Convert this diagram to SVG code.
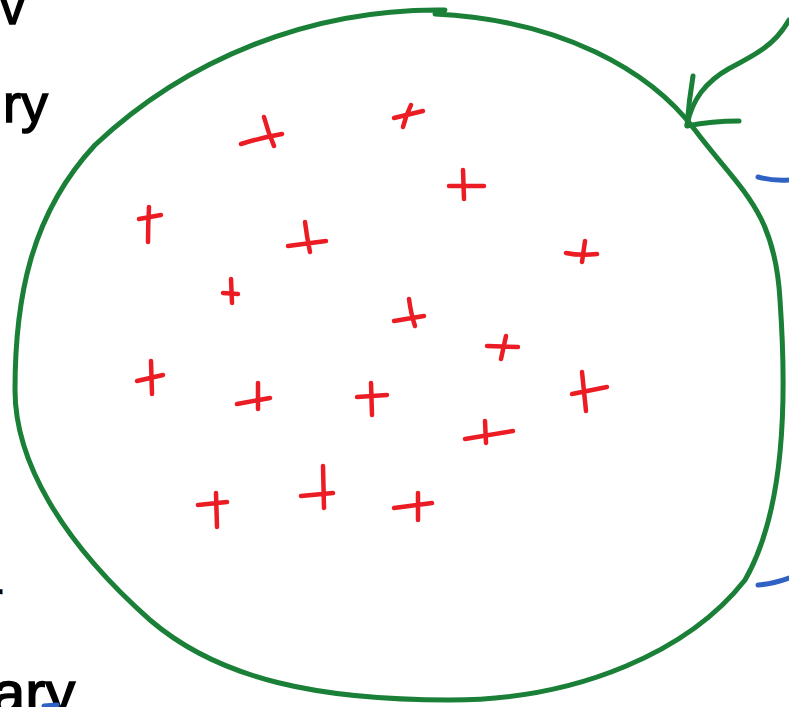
<svg xmlns="http://www.w3.org/2000/svg" width="789" height="707" viewBox="0 0 789 707">
<style>
.hand{font-family:"Liberation Sans","DejaVu Sans",sans-serif;fill:#000;stroke:#000;stroke-width:1.5}
.green{fill:none;stroke:#1a7f37;stroke-width:5;stroke-linecap:round;stroke-linejoin:round}
.blue{fill:none;stroke:#2f62c4;stroke-width:5;stroke-linecap:round}
.x{fill:none;stroke:#eb1c24;stroke-width:4.5;stroke-linecap:round}
</style>
<rect width="789" height="707" fill="#fff"/>
<g id="labels">
<text class="hand" x="0" y="24" font-size="50">v</text>
<text class="hand" x="3" y="122" font-size="54">ry</text>
<text class="hand" x="-11" y="612" font-size="40">r</text>
<text class="hand" x="-8" y="713" font-size="60">ary</text>
</g>
<g id="set-boundary">
<path class="green" d="M435 14 C560 20 650 70 695 130 C740 190 775 210 780 300 C787 400 785 510 745 580 C690 650 580 700 450 700 C320 700 220 680 150 620 C60 540 15 460 15 390 C15 300 30 215 95 145 C185 60 310 8 445 10"/>
</g>
<g id="points">
<path class="x" d="M241 144 Q260 138 282 134 M264 117 Q268 132 274 146"/>
<path class="x" d="M139 219 L161 215 M149 207 Q148 225 148 242"/>
<path class="x" d="M288 246 L326 241 M305 222 Q307 238 310 252"/>
<path class="x" d="M394 118 L423 111 M411 105 Q406 115 403 127"/>
<path class="x" d="M449 186 L484 186 M463 170 L464 199"/>
<path class="x" d="M566 253 Q580 256 597 254 M585 241 L582 262"/>
<path class="x" d="M223 293 L238 294 M231 279 L232 303"/>
<path class="x" d="M137 381 L163 375 M151 361 L152 394"/>
<path class="x" d="M237 404 L270 398 M258 383 L258 409"/>
<path class="x" d="M198 505 L227 502 M216 493 L217 527"/>
<path class="x" d="M301 496 L333 493 M323 466 L324 508"/>
<path class="x" d="M394 321 L424 316 M409 299 Q411 314 415 326"/>
<path class="x" d="M487 346 L518 347 M506 336 L501 359"/>
<path class="x" d="M357 397 L387 395 M371 383 L372 415"/>
<path class="x" d="M572 394 L607 387 M582 372 L586 411"/>
<path class="x" d="M465 439 L513 431 M485 421 L486 443"/>
<path class="x" d="M394 508 L432 503 M418 493 L418 520"/>
</g>
<g id="connectors">
<path class="green" d="M789 20 C775 45 755 55 730 68 C705 82 692 100 687 125"/>
<path class="green" d="M693 76 Q689 100 687 126 Q712 121 739 121"/>
<path class="blue" d="M758 177 Q772 181 789 180"/>
<path class="blue" d="M758 585 Q772 584 789 578"/>
<path class="blue" d="M44 706 L57 705"/>
</g>
</svg>
